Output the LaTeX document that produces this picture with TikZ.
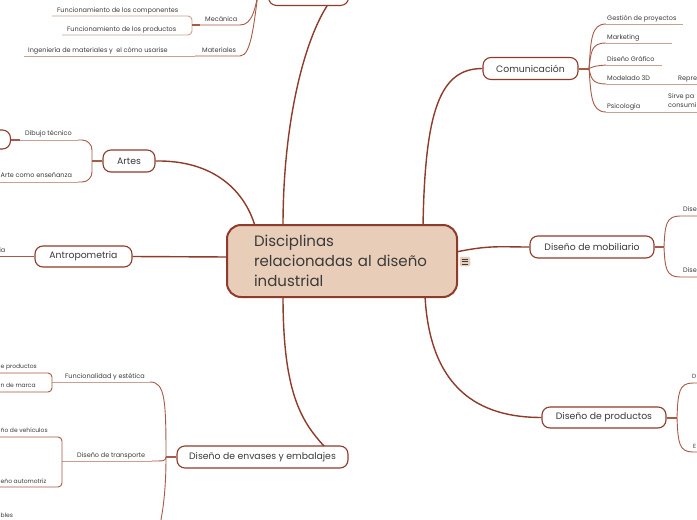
\documentclass[tikz,border=0pt]{standalone}
\usepackage{fontspec}
\setmainfont{Poppins}
\definecolor{brD}{HTML}{8E3B2B}
\definecolor{brM}{HTML}{A65A48}
\definecolor{brL}{HTML}{C9A092}
\definecolor{peach}{HTML}{E8CDB9}
\definecolor{txt}{HTML}{3A3A3A}
\tikzset{
  central/.style={draw=brD, line width=2pt, fill=peach, rounded corners=14pt, minimum width=230pt, minimum height=72pt, text width=200pt, align=left, text=txt, inner sep=0pt, font=\fontsize{15}{20}\selectfont},
  branch/.style={draw=brD, line width=1.1pt, fill=white, rounded corners=8pt, inner sep=0pt, text=txt, font=\fontsize{9.3}{11}\selectfont},
  leaf/.style={inner sep=0pt, text=txt, font=\fontsize{6.5}{9}\selectfont},
  frag/.style={leaf, font=\fontsize{6}{9}\selectfont},
  conn/.style={draw=brD, line width=1.4pt},
  sub/.style={draw=brM, line width=0.9pt},
  ul/.style={draw=brL, line width=0.9pt},
  stub/.style={draw=brM, line width=2pt}
}
\begin{document}
\begin{tikzpicture}[x=1pt,y=-1pt]
\useasboundingbox (0,0) rectangle (697,520);
\clip (0,0) rectangle (697,520);
\fill[white] (0,0) rectangle (697,520);

% ---------- connectors from central ----------
\coordinate (cTopA) at (255,226);
\coordinate (cTopB) at (283,226);
\coordinate (cTopC) at (423,226);
\coordinate (cBotA) at (283,296);
\coordinate (cBotB) at (425,296);
\coordinate (cLeft) at (228,257);
\coordinate (cRight) at (456,252);

% top partial node
\node[branch, minimum width=80pt, minimum height=30pt, anchor=south west] (ing) at (268,6) {};
\node[branch, minimum width=95pt, minimum height=22pt] (com) at (530.5,68.5) {Comunicación};
\node[branch, minimum width=52pt, minimum height=22pt] (art) at (129,161) {Artes};
\node[branch, minimum width=97pt, minimum height=21pt] (ant) at (83.5,256.5) {Antropometria};
\node[branch, minimum width=124pt, minimum height=22pt] (mob) at (592,247) {Diseño de mobiliario};
\node[branch, minimum width=124pt, minimum height=21pt] (pro) at (604,417.5) {Diseño de productos};
\node[branch, minimum width=171pt, minimum height=22pt] (env) at (262.5,457) {Diseño de envases y embalajes};

\draw[conn] (cTopB) .. controls (283,120) and (305,40) .. (327,6);
\draw[conn] (art.east) .. controls (215,160) and (245,192) .. (cTopA);
\draw[conn] (ant.east) -- (cLeft);
\draw[conn] (cTopC) .. controls (425,110) and (440,68.5) .. (com.west);
\draw[conn] (cRight) .. controls (490,245) and (500,247) .. (mob.west);
\draw[conn] (cBotB) .. controls (430,390) and (480,417.5) .. (pro.west);
\draw[conn] (cBotA) .. controls (283,390) and (300,420) .. (324,446);

\node[central] (cen) at (342,261) {\hspace*{12pt}Disciplinas\\\hspace*{12pt}relacionadas al diseño\\\hspace*{12pt}industrial};
\node[draw=peach!80!brL, fill=peach, rounded corners=1.5pt, minimum width=10pt, minimum height=9pt, inner sep=0pt] (icon) at (465,261.5) {};
\foreach \yy in {259,261.5,264} \draw[txt, line width=0.6pt] (462,\yy) -- (468,\yy);

% ---------- Ingenieria group (top left) ----------
\node[leaf, anchor=base west] (fcomp) at (57,12) {Funcionamiento de los componentes};
\node[leaf, anchor=base west] (fprod) at (67,31) {Funcionamiento de los productos};
\node[leaf, anchor=base west] (mec) at (205,21) {Mecánica};
\node[leaf, anchor=base west] (mat) at (202,52) {Materiales};
\node[leaf, anchor=base west] (imat) at (28,52) {Ingeniería de materiales y \ el cómo usarise};
\draw[ul, rounded corners=4pt] (52,16) -- (192,16) -- (192,35) -- (62,35);
\draw[stub] (192,25) -- (200,25);
\draw[sub] (200,25) -- (240,25) .. controls (252,25) and (256,10) .. (260,-20);
\draw[ul] (24,56) -- (195,56);
\draw[sub] (195,56) -- (240,56) .. controls (252,56) and (254,20) .. (260,-20);

% ---------- Artes group ----------
\node[branch, minimum width=30pt, minimum height=19pt, anchor=east] (dbox) at (11,139.5) {};
\node[leaf, anchor=base west] (dib) at (25,135) {Dibujo técnico};
\node[leaf, anchor=base west] (aen) at (0.5,177) {Arte como enseñanza};
\draw[stub] (dbox.east) -- (20,139.5);
\draw[ul] (20,140) -- (78,140);
\draw[sub, rounded corners=10pt] (78,140) -- (92,140) -- (92,182) -- (78,182);
\draw[ul] (78,182) -- (0,182);
\draw[stub] (92,161) -- (art.west);

% ---------- Antropometria ----------
\node[leaf, anchor=base east] (ia) at (5.5,252) {ia};
\draw[sub] (0,256.5) -- (ant.west);

% ---------- Comunicacion group ----------
\coordinate (hc) at (589,68.5);
\draw[stub] (com.east) -- (hc);
\node[leaf, anchor=base west] (ges) at (607,20) {Gestión de proyectos};
\node[leaf, anchor=base west] (mkt) at (607,39) {Marketing};
\node[leaf, anchor=base west] (dgr) at (607,61) {Diseño Gráfico};
\node[leaf, anchor=base west] (m3d) at (607,80) {Modelado 3D};
\node[leaf, anchor=base west] (rep) at (678,80) {Repre};
\node[leaf, anchor=base west] (psi) at (607,108) {Psicología};
\node[leaf, anchor=base west] (sir) at (668,98.5) {Sirve pa};
\node[leaf, anchor=base west] (cons) at (668,107.5) {consumi};
\draw[sub] (hc) .. controls (591,40) and (591,24) .. (606,24);
\draw[ul] (606,24) -- (683,24);
\draw[sub] (hc) .. controls (591,52) and (591,43) .. (606,43);
\draw[ul] (606,43) -- (672,43);
\draw[sub] (hc) .. controls (595,66) .. (606,65);
\draw[ul] (606,65) -- (662,65);
\draw[sub] (hc) .. controls (591,78) and (592,84) .. (606,84);
\draw[ul] (606,84) -- (697,84);
\draw[sub] (hc) .. controls (591,95) and (591,112) .. (606,112);
\draw[ul] (606,112) -- (697,112);

% ---------- Mobiliario group ----------
\coordinate (hm) at (664,247);
\draw[stub] (mob.east) -- (hm);
\node[leaf, anchor=base west] (mo1) at (683,211) {Dise};
\node[leaf, anchor=base west] (mo2) at (683,272) {Dise};
\draw[sub] (hm) .. controls (665,225) and (666,216) .. (680,216) -- (697,216);
\draw[sub] (hm) .. controls (665,268) and (666,277) .. (680,277) -- (697,277);

% ---------- Productos group ----------
\coordinate (hp) at (677,417.5);
\draw[stub] (pro.east) -- (hp);
\node[frag, anchor=base east] (pr1) at (696.5,378) {D};
\node[frag, anchor=base east] (pr2) at (696.5,448) {E};
\draw[sub] (hp) .. controls (678,392) and (679,383) .. (693,383) -- (697,383);
\draw[sub] (hp) .. controls (678,443) and (679,452) .. (693,452) -- (697,452);

% ---------- Envases group ----------
\coordinate (he) at (166,457);
\draw[stub] (env.west) -- (he);
\node[leaf, anchor=base west] (fye) at (65,378) {Funcionalidad y estética};
\node[leaf, anchor=base west] (tra) at (77,457) {Diseño de transporte};
\node[frag, anchor=base west] (epr) at (0.5,368) {e productos};
\node[frag, anchor=base west] (nma) at (0.5,387) {n de marca};
\node[frag, anchor=base west] (nve) at (0.5,432) {ño de vehículos};
\node[frag, anchor=base west] (nau) at (0.5,483) {eño automotriz};
\node[frag, anchor=base west] (bles) at (0.5,517) {bles};
\draw[sub] (he) .. controls (166,400) and (165,382) .. (150,382);
\draw[ul] (150,382) -- (52,382);
\draw[sub] (he) .. controls (165,461) .. (152,461);
\draw[ul] (152,461) -- (62,461);
\draw[sub] (he) .. controls (166,490) and (163,510) .. (160,525);
\draw[sub, rounded corners=4pt] (0,373) -- (52,373) -- (52,392) -- (0,392);
\draw[sub, rounded corners=4pt] (0,437) -- (62,437) -- (62,487) -- (0,487);
\end{tikzpicture}
\end{document}
